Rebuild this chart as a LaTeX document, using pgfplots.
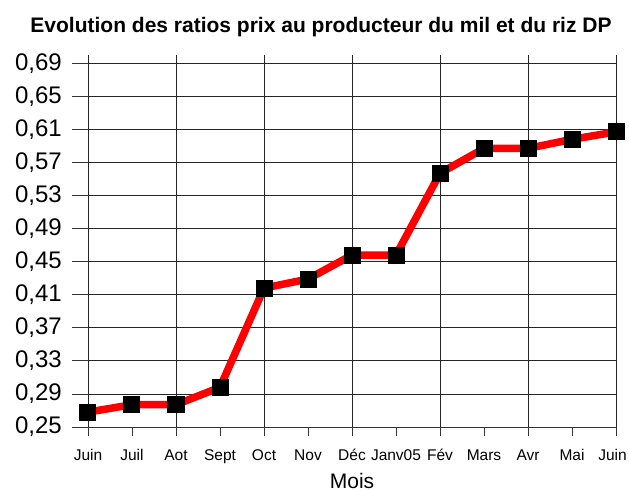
\documentclass[border=0pt]{standalone}
\usepackage{pgfplots}
\pgfplotsset{compat=1.18}
\usepackage{fontspec}
\setmainfont{Liberation Sans}
\begin{document}
\begin{tikzpicture}
\path[use as bounding box] (-88bp,-64bp) rectangle (541bp,427bp);
\begin{axis}[
  at={(0,0)}, anchor=south west,
  scale only axis,
  width=528bp, height=372bp,
  xmin=0, xmax=12,
  ymin=0.25, ymax=0.70,
  axis x line=bottom, axis y line=left,
  axis line style={-, black!80, line width=0.8bp},
  tick align=outside,
  major tick length=16bp,
  tick style={black!80, line width=0.8bp},
  x tick style={/pgfplots/major tick length=9bp},
  xtick={0,1,...,12},
  xticklabels={Juin,Juil,Aot,Sept,Oct,Nov,D\'ec,Janv05,F\'ev,Mars,Avr,Mai,\hspace*{-7bp}Juin},
  x tick label style={font=\fontsize{15.5bp}{17bp}\selectfont, anchor=base, inner sep=0pt, yshift=-17bp},
  extra x ticks={0,2,...,12},
  extra x tick labels={},
  extra x tick style={grid=major, /pgfplots/major tick length=0pt},
  ytick={0.25,0.29,...,0.70},
  ymajorgrids,
  grid style={black!85, line width=0.8bp},
  y tick label style={font=\fontsize{24bp}{26bp}\selectfont, anchor=east, inner sep=0pt, xshift=-10bp},
  /pgf/number format/assume math mode=true,
  yticklabel style={/pgf/number format/.cd, fixed, fixed zerofill, precision=2, use comma},
  xlabel={Mois},
  xlabel style={font=\fontsize{21bp}{23bp}\selectfont, at={(axis description cs:0.5,0)}, anchor=base, inner sep=0pt, yshift=-61bp},
  title={Evolution des ratios prix au producteur du mil et du riz DP},
  title style={font=\bfseries\fontsize{21bp}{23bp}\selectfont, at={(axis description cs:0.5,1)}, anchor=base, inner sep=0pt, xshift=-31bp, yshift=17bp},
  clip=false,
]
\addplot[red, line width=7.5bp, mark=square*, mark size=8bp,
  mark options={black, fill=black, line width=0pt}]
  coordinates {
  (0,0.268) (1,0.277) (2,0.277) (3,0.298) (4,0.418) (5,0.429)
  (6,0.458) (7,0.458) (8,0.557) (9,0.587) (10,0.587) (11,0.598) (12,0.607)
  };
\end{axis}
\end{tikzpicture}
\end{document}
